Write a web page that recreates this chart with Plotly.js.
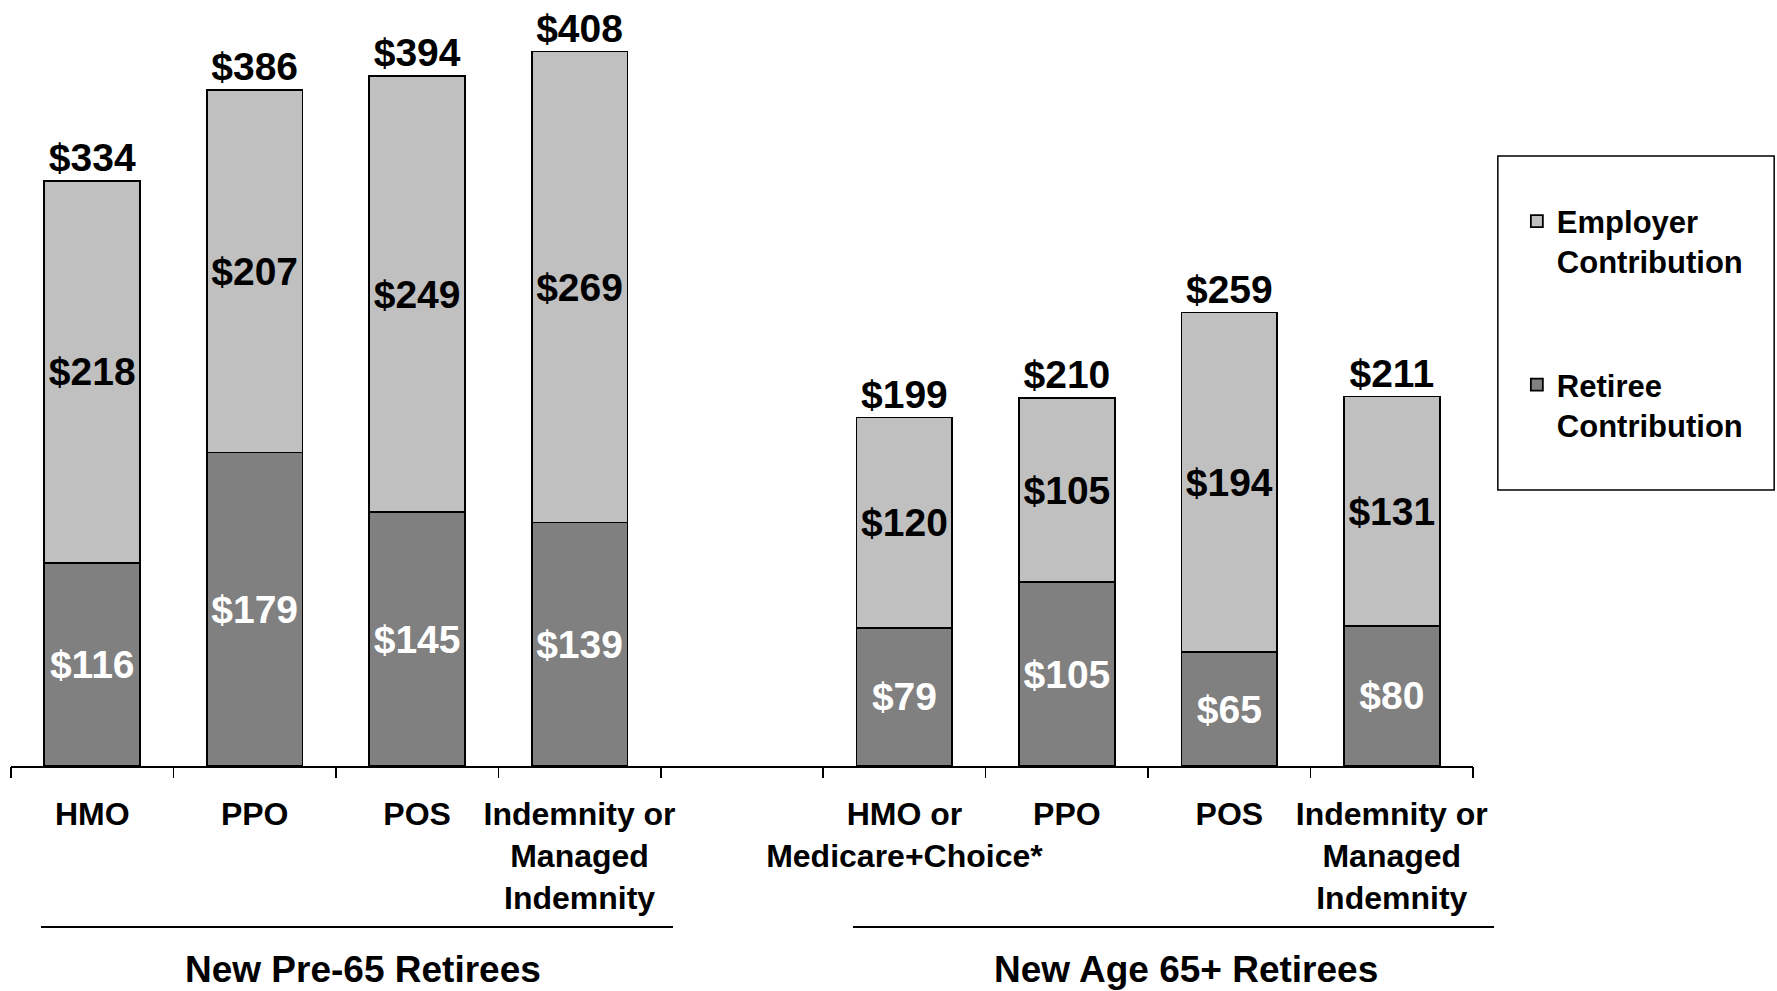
<!DOCTYPE html>
<html>
<head>
<meta charset="utf-8">
<script src="https://cdn.plot.ly/plotly-3.0.1.min.js"></script>
<style>html,body{margin:0;padding:0;background:#fff;}#chart{width:1777px;height:991px;}</style>
</head>
<body>
<div id="chart"></div>
<script>
// ---- data ----
const categories = ["HMO", "PPO", "POS", "Indemnity or<br>Managed<br>Indemnity", "",
                    "HMO or<br>Medicare+Choice*", "PPO", "POS", "Indemnity or<br>Managed<br>Indemnity"];
const employerContribution = [218, 207, 249, 269, null, 120, 105, 194, 131];
const retireeContribution  = [116, 179, 145, 139, null, 79, 105, 65, 80];
const totalPremium         = [334, 386, 394, 408, null, 199, 210, 259, 211];
const groupTitles = ["New Pre-65 Retirees", "New Age 65+ Retirees"];
const seriesNames = ["Employer<br>Contribution", "Retiree<br>Contribution"];

const FONT = "Liberation Sans, Arial, Helvetica, sans-serif";
const idx = categories.map((c, i) => i);
const labelIdx = idx.filter(i => categories[i] !== "");
const money = v => (v == null ? "" : "$" + v);

const retiree = {
  type: "bar", name: seriesNames[1], legendgroup: "r", legendrank: 2,
  x: idx, y: retireeContribution,
  text: retireeContribution.map(money), textposition: "inside", insidetextanchor: "middle",
  textangle: 0, constraintext: "none",
  textfont: {family: FONT, size: 39, color: "#ffffff", weight: "bold"},
  marker: {color: "#808080", line: {color: "#000000", width: 1.8}},
  hoverinfo: "skip"
};
const employer = {
  type: "bar", name: seriesNames[0], legendgroup: "e", legendrank: 1,
  x: idx, y: employerContribution,
  text: employerContribution.map(money), textposition: "inside", insidetextanchor: "middle",
  textangle: 0, constraintext: "none",
  textfont: {family: FONT, size: 39, color: "#000000", weight: "bold"},
  marker: {color: "#C0C0C0", line: {color: "#000000", width: 1.8}},
  hoverinfo: "skip"
};
const totals = {
  type: "scatter", mode: "text", showlegend: false,
  x: idx, y: totalPremium, text: totalPremium.map(money),
  textposition: "top center", cliponaxis: false,
  textfont: {family: FONT, size: 39, color: "#000000", weight: "bold"},
  hoverinfo: "skip"
};
const boundaries = [];
for (let i = 0; i <= categories.length; i++) boundaries.push(i - 0.5);
const tickHolder = {
  type: "scatter", mode: "markers", x: [0], y: [0], xaxis: "x2", yaxis: "y",
  marker: {opacity: 0}, showlegend: false, hoverinfo: "skip"
};

const layout = {
  width: 1777, height: 991,
  margin: {l: 11, r: 304, t: 10, b: 225},
  paper_bgcolor: "#ffffff", plot_bgcolor: "#ffffff",
  barmode: "stack", bargap: 0.41,
  font: {family: FONT, color: "#000000"},
  xaxis: {
    range: [-0.5, categories.length - 0.5], tickmode: "array",
    tickvals: labelIdx, ticktext: labelIdx.map(i => categories[i]), tickangle: 0,
    ticks: "", showline: true, linecolor: "#000000", linewidth: 2,
    showgrid: false, zeroline: false, ticklabelstandoff: 19,
    tickfont: {family: FONT, size: 32, color: "#000000", weight: "bold"}
  },
  xaxis2: {
    overlaying: "x", anchor: "y", side: "bottom",
    range: [-0.5, categories.length - 0.5], tickmode: "array", tickvals: boundaries,
    ticks: "outside", ticklen: 11, tickwidth: 1.5, tickcolor: "#000000",
    showticklabels: false, showline: false, showgrid: false, zeroline: false
  },
  yaxis: {range: [0, 431.7], visible: false, showgrid: false, zeroline: false},
  legend: {
    x: 1.030, y: 0.756, xanchor: "left", yanchor: "top",
    bgcolor: "rgba(0,0,0,0)", borderwidth: 0,
    traceorder: "grouped", tracegroupgap: 80, valign: "top",
    font: {family: FONT, size: 31, color: "#000000", weight: "bold"}
  },
  shapes: [
    {type: "rect", xref: "paper", yref: "paper", x0: 1.017, x1: 1.206, y0: 0.3651, y1: 0.8069,
     line: {color: "#000000", width: 1.5}, fillcolor: "rgba(0,0,0,0)"},
    {type: "line", xref: "paper", yref: "paper", x0: 0.0205, x1: 0.4528, y0: -0.213, y1: -0.213,
     line: {color: "#000000", width: 2}},
    {type: "line", xref: "paper", yref: "paper", x0: 0.5759, x1: 1.0144, y0: -0.213, y1: -0.213,
     line: {color: "#000000", width: 2}}
  ],
  annotations: [
    {xref: "x", yref: "paper", x: 1.667, y: -0.2695, text: groupTitles[0], showarrow: false,
     xanchor: "center", yanchor: "middle",
     font: {family: FONT, size: 37, color: "#000000", weight: "bold"}},
    {xref: "x", yref: "paper", x: 6.735, y: -0.2695, text: groupTitles[1], showarrow: false,
     xanchor: "center", yanchor: "middle",
     font: {family: FONT, size: 37, color: "#000000", weight: "bold"}}
  ]
};

Plotly.newPlot("chart", [retiree, employer, totals, tickHolder], layout, {displayModeBar: false, staticPlot: true});
</script>
</body>
</html>
